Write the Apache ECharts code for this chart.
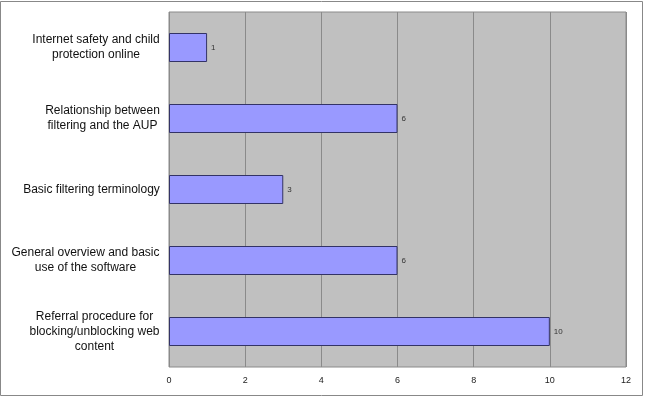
<!DOCTYPE html>
<html><head><meta charset="utf-8">
<script src="https://cdn.jsdelivr.net/npm/echarts@6/dist/echarts.min.js"></script>
<style>html,body{margin:0;padding:0;background:#fff}#c{width:645px;height:397px}</style>
</head><body><div id="c"></div>
<script>
const categories = [
  "Internet safety and child\nprotection online",
  "Relationship between\nfiltering and the AUP",
  "Basic filtering terminology",
  "General overview and basic\nuse of the software",
  "Referral procedure for\nblocking/unblocking web\ncontent"
];
const values = [1, 6, 3, 6, 10];
const xTicks = [0, 2, 4, 6, 8, 10, 12];

const FONT = '12px "Liberation Sans", Arial';
const ctx = document.createElement('canvas').getContext('2d');
ctx.font = FONT;
const rich = {};
categories.forEach((c, i) => {
  const w = Math.max(...c.split('\n').map(l => ctx.measureText(l).width));
  rich['c' + i] = {width: Math.ceil(w), align: 'center', fontFamily: 'Liberation Sans, Arial', fontSize: 12, color: '#111', lineHeight: 15};
});

const chart = echarts.init(document.getElementById('c'), null, {renderer: 'canvas'});
chart.setOption({
  animation: false,
  backgroundColor: '#fff',
  graphic: [{
    type: 'rect', shape: {x: 0.5, y: 1.5, width: 642, height: 394},
    style: {fill: 'none', stroke: '#888', lineWidth: 1}, silent: true, z: 100
  }],
  grid: {left: 169, right: 19, top: 12, bottom: 30, show: true, backgroundColor: '#c0c0c0', borderColor: '#8a8a8a', borderWidth: 1},
  xAxis: {
    type: 'value', min: xTicks[0], max: xTicks[xTicks.length - 1], interval: 2,
    axisLine: {show: false}, axisTick: {show: false},
    axisLabel: {fontFamily: 'Liberation Sans, Arial', fontSize: 9, color: '#222', margin: 9},
    splitLine: {show: true, lineStyle: {color: '#8a8a8a', width: 1}}
  },
  yAxis: {
    type: 'category', data: categories, inverse: true,
    axisLine: {show: false}, axisTick: {show: false},
    axisLabel: {
      margin: 9, align: 'right', rich: rich,
      formatter: (v, i) => v.split('\n').map(l => '{c' + i + '|' + l + '}').join('\n')
    }
  },
  series: [{
    type: 'bar', data: values, barWidth: 29,
    itemStyle: {color: '#9999ff', borderColor: '#333366', borderWidth: 1},
    label: {show: true, position: 'right', fontFamily: 'Liberation Sans, Arial', fontSize: 8, color: '#333', distance: 4}
  }]
});
</script></body></html>
